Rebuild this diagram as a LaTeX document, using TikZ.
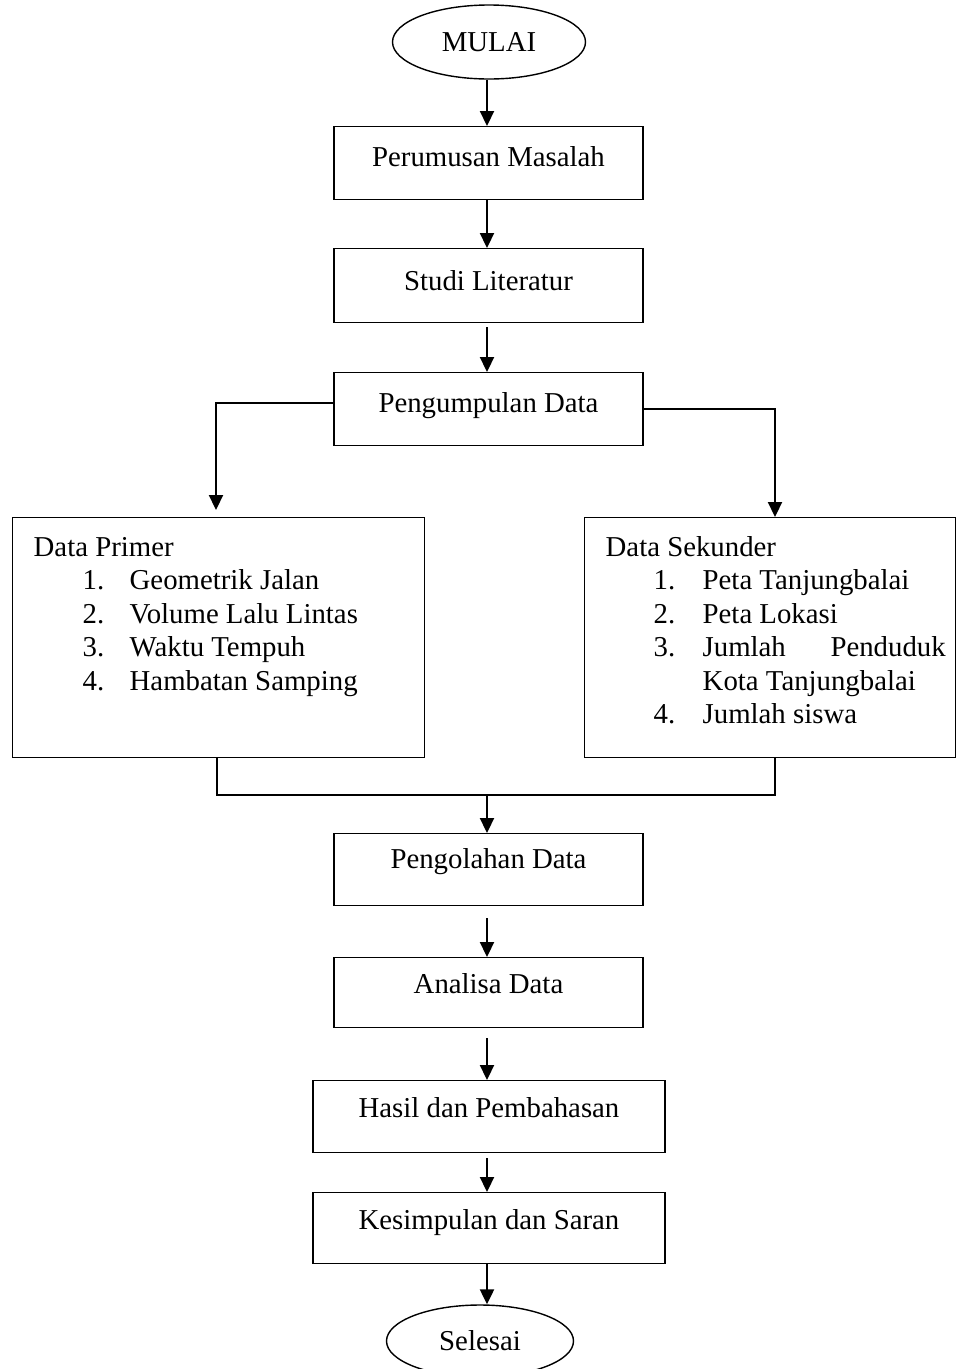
\documentclass[tikz,border=0pt]{standalone}
\usepackage{fontspec}
\setmainfont{Liberation Serif}
\usetikzlibrary{arrows.meta,shapes.geometric}
\begin{document}
\begin{tikzpicture}[x=1pt,y=-1pt,
  font=\fontsize{28.8}{34}\selectfont,
  line width=1.4pt,
  box/.style={draw, rectangle, inner sep=0pt, text height=40pt, text depth=33pt, anchor=north},
  term/.style={draw, ellipse, inner sep=0pt, minimum width=193pt, minimum height=74pt},
  arr/.style={line width=2.2pt, -{Triangle[width=14pt,length=15pt]}},
  conn/.style={line width=2pt},
  itm/.style={anchor=base west, inner sep=0pt}
]
\useasboundingbox (0,0) rectangle (956,1369);

% terminals and process boxes
\node[term] (mulai) at (489,42) {MULAI};
\node[box, minimum width=309pt] (b1) at (488.5,126) {Perumusan Masalah};
\node[box, minimum width=309pt, text height=42pt, text depth=32pt] (b2) at (488.5,248) {Studi Literatur};
\node[box, minimum width=309pt] (b3) at (488.5,372) {Pengumpulan Data};

% data boxes
\node[draw, rectangle, inner sep=0pt, minimum width=412pt, minimum height=240pt, anchor=north west] (prim) at (12,517) {};
\node[draw, rectangle, inner sep=0pt, minimum width=371pt, minimum height=240pt, anchor=north west] (sek) at (584,517) {};

\node[itm] (p0) at (33,556) {Data Primer};
\node[itm] (p1) at (82,589.5) {\makebox[47pt][l]{1.}Geometrik Jalan};
\node[itm] (p2) at (82,623) {\makebox[47pt][l]{2.}Volume Lalu Lintas};
\node[itm] (p3) at (82,656.5) {\makebox[47pt][l]{3.}Waktu Tempuh};
\node[itm] (p4) at (82,690) {\makebox[47pt][l]{4.}Hambatan Samping};

\node[itm] (s0) at (605,556) {Data Sekunder};
\node[itm] (s1) at (653,589.5) {\makebox[49pt][l]{1.}Peta Tanjungbalai};
\node[itm] (s2) at (653,623) {\makebox[49pt][l]{2.}Peta Lokasi};
\node[itm] (s3) at (653,656.5) {\makebox[49pt][l]{3.}\hbox to 243pt{Jumlah\hfill Penduduk}};
\node[itm] (s3b) at (702,690) {Kota Tanjungbalai};
\node[itm] (s4) at (653,723.5) {\makebox[49pt][l]{4.}Jumlah siswa};

\node[box, minimum width=309pt, text height=35pt, text depth=37pt] (b5) at (488.5,833) {Pengolahan Data};
\node[box, minimum width=309pt, text height=36pt, text depth=34pt] (b6) at (488.5,957) {Analisa Data};
\node[box, minimum width=352pt, text height=37pt, text depth=35pt] (b7) at (489,1080) {Hasil dan Pembahasan};
\node[box, minimum width=352pt, text height=37pt, text depth=34pt] (b8) at (489,1192) {Kesimpulan dan Saran};
\node[term, minimum width=187pt, minimum height=72pt] (selesai) at (480,1341) {Selesai};

% connectors
\draw[arr] (mulai.south -| 487,0) -- (b1.north -| 487,0);
\draw[arr] (b1.south -| 487,0) -- (b2.north -| 487,0);
\draw[arr] ([yshift=-4pt]b2.south -| 487,0) -- (b3.north -| 487,0);

\coordinate (lt) at (216,510);
\coordinate (rt) at (775,517);
\draw[arr] (b3.west |- 0,403) -| (lt);
\draw[arr] (b3.east |- 0,409) -| (rt);

\coordinate (mL) at (217,795);
\coordinate (mR) at (775,795);
\coordinate (mM) at (487,795);
\draw[conn] (prim.south -| mL) -- (mL) -- (mR) -- (sek.south -| mR);
\draw[arr] (mM) -- (b5.north -| mM);

\draw[arr] ([yshift=-12pt]b5.south -| 487,0) -- (b6.north -| 487,0);
\draw[arr] ([yshift=-10pt]b6.south -| 487,0) -- (b7.north -| 487,0);
\draw[arr] ([yshift=-5pt]b7.south -| 487,0) -- (b8.north -| 487,0);
\draw[arr] (b8.south -| 487,0) -- (selesai.north -| 487,0);
\end{tikzpicture}
\end{document}
